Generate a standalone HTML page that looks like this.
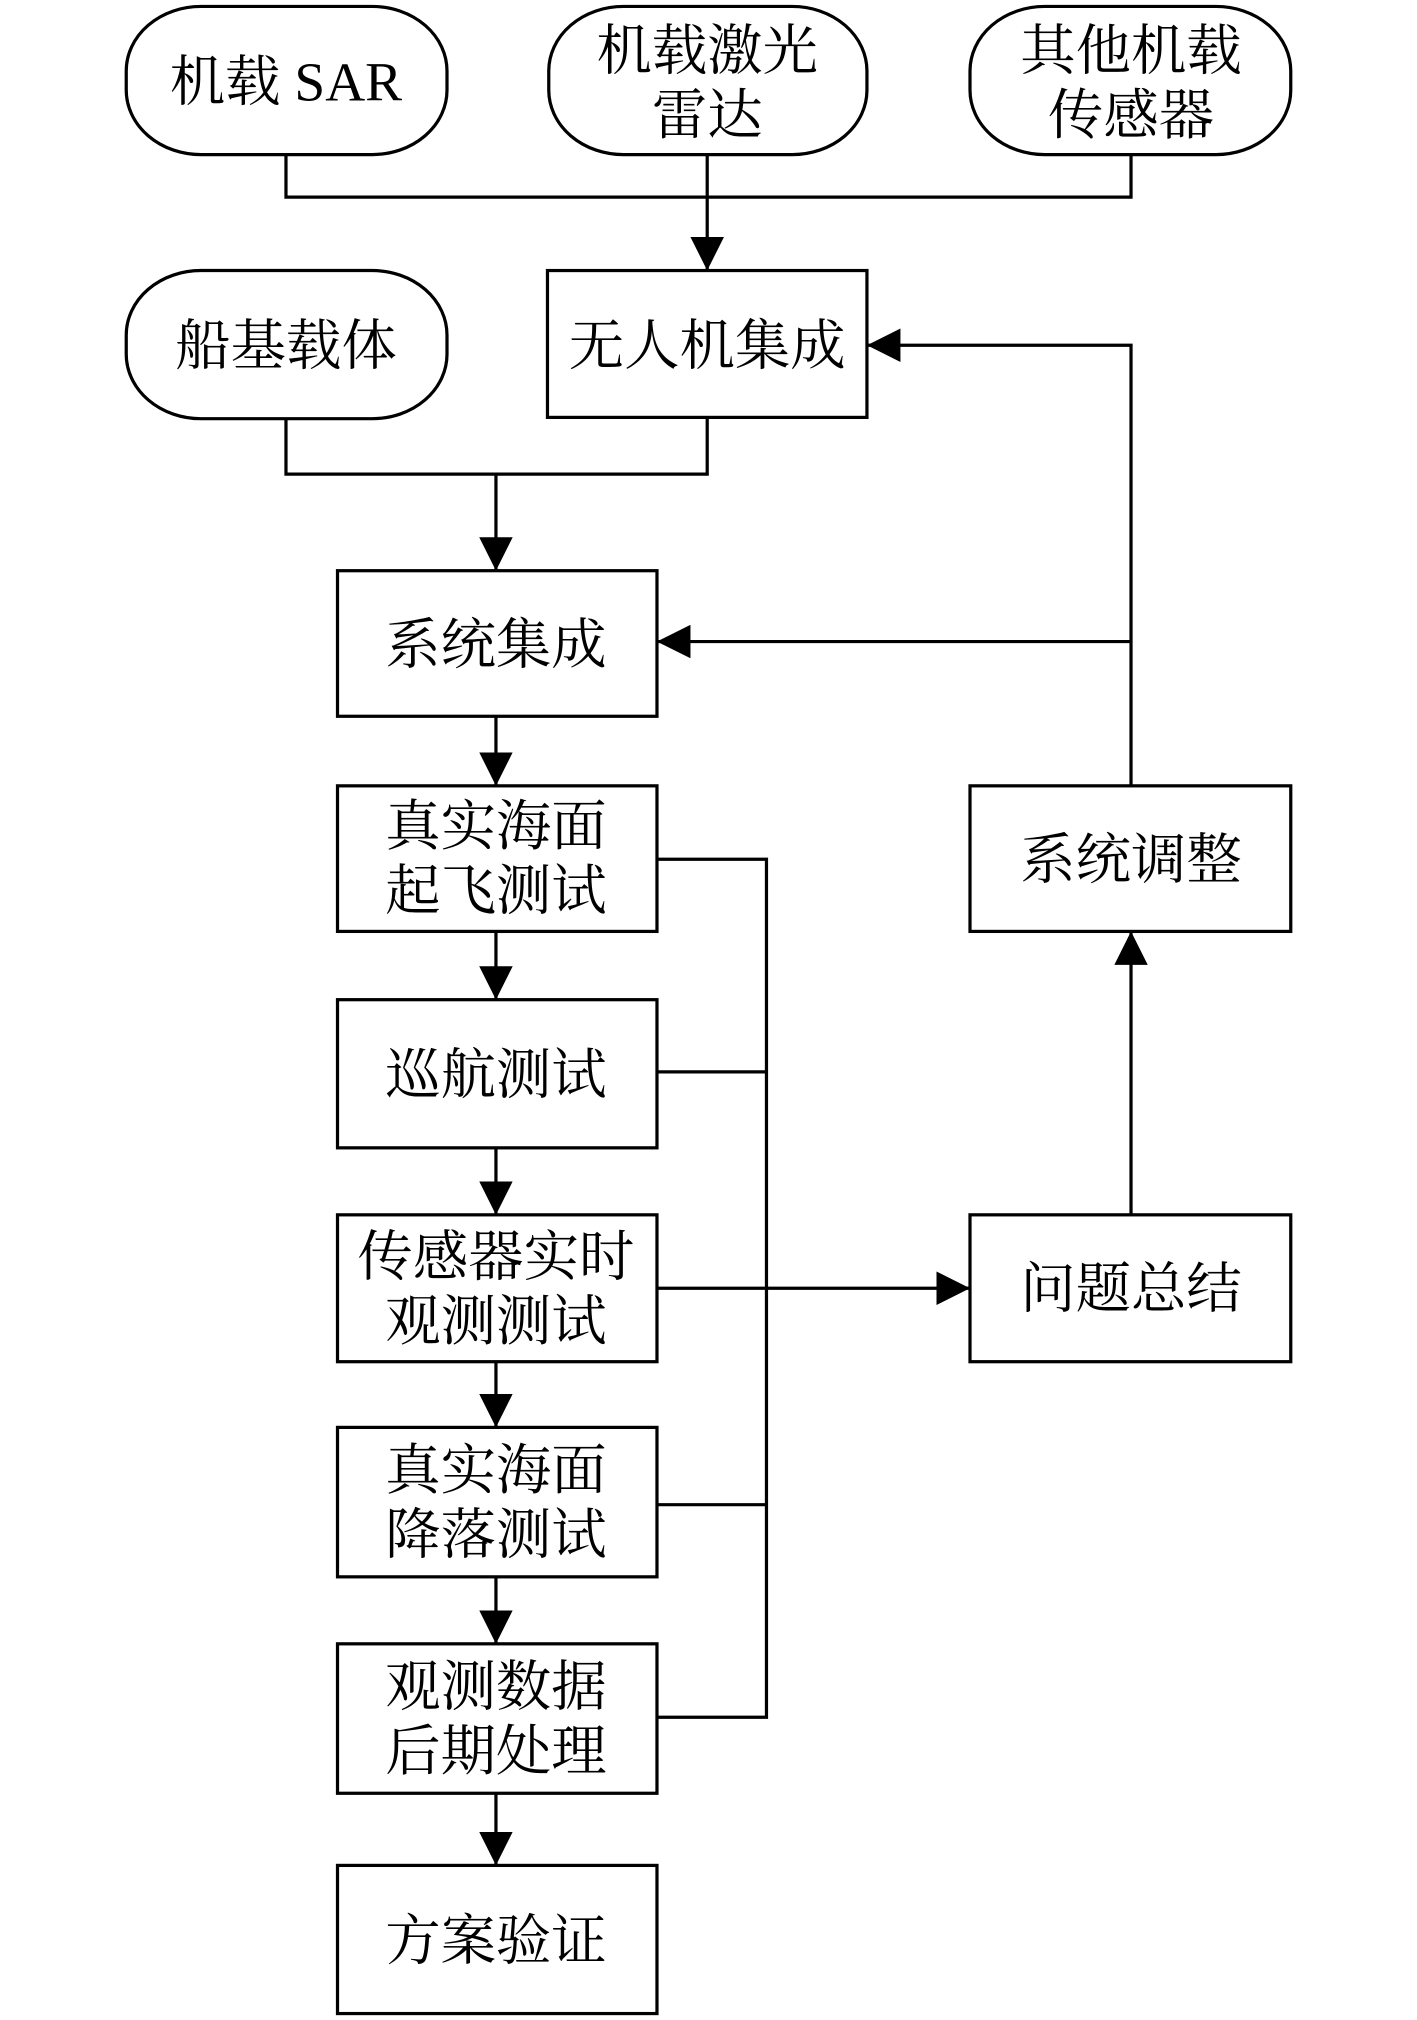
<!DOCTYPE html>
<html><head><meta charset="utf-8"><style>html,body{margin:0;padding:0;background:#fff}svg{display:block}</style></head><body>
<svg width="1417" height="2020" viewBox="0 0 1100 1568" preserveAspectRatio="none" xmlns="http://www.w3.org/2000/svg">
<defs><marker id="a" markerWidth="10" markerHeight="10" refX="9" refY="5" orient="auto" markerUnits="userSpaceOnUse" viewBox="0 0 10 10"><path d="M0,0 L10,5 L0,10z" fill="#000"/></marker>
<marker id="b" markerWidth="26" markerHeight="26" refX="26" refY="13" orient="auto" markerUnits="userSpaceOnUse" viewBox="0 0 26 26"><path d="M0,0 L26,13 L0,26z" fill="#000"/></marker></defs>
<g fill="#fff" stroke="#000" stroke-width="2.5">
<rect x="98" y="5" width="249" height="115" rx="58" ry="50"/>
<rect x="426" y="5" width="247" height="115" rx="58" ry="50"/>
<rect x="753" y="5" width="249" height="115" rx="58" ry="50"/>
<rect x="98" y="210" width="249" height="115" rx="58" ry="50"/>
<rect x="425" y="210" width="248" height="114"/>
<rect x="262" y="443" width="248" height="113"/>
<rect x="262" y="610" width="248" height="113"/>
<rect x="262" y="776" width="248" height="115"/>
<rect x="262" y="943" width="248" height="114"/>
<rect x="262" y="1108" width="248" height="116"/>
<rect x="262" y="1276" width="248" height="116"/>
<rect x="262" y="1448" width="248" height="115"/>
<rect x="753" y="610" width="249" height="113"/>
<rect x="753" y="943" width="249" height="114"/>
</g>
<g fill="none" stroke="#000" stroke-width="2.5">
<path d="M222,120 V153 H878 V120 M549,120 V153"/>
<path d="M549,153 V210" marker-end="url(#b)"/>
<path d="M222,325 V368 H549 V324"/>
<path d="M385,368 V443" marker-end="url(#b)"/>
<path d="M385,556 V610" marker-end="url(#b)"/>
<path d="M385,723 V776" marker-end="url(#b)"/>
<path d="M385,891 V943" marker-end="url(#b)"/>
<path d="M385,1057 V1108" marker-end="url(#b)"/>
<path d="M385,1224 V1276" marker-end="url(#b)"/>
<path d="M385,1392 V1448" marker-end="url(#b)"/>
<path d="M510,667 H595 V1333 H510 M510,832 H595 M510,1168 H595"/>
<path d="M510,1000 H753" marker-end="url(#b)"/>
<path d="M878,943 V723" marker-end="url(#b)"/>
<path d="M878,610 V268 H673" marker-end="url(#b)"/>
<path d="M878,498 H510" marker-end="url(#b)"/>
</g>
<g font-family="'Liberation Serif','Noto Serif CJK SC',serif" font-size="43" text-anchor="middle" fill="#000">
<text x="222" y="78">机载 SAR</text>
<text x="549" y="54">机载激光</text><text x="549" y="104">雷达</text>
<text x="878" y="54">其他机载</text><text x="878" y="104">传感器</text>
<text x="222" y="283">船基载体</text>
<text x="549" y="283">无人机集成</text>
<text x="385" y="515">系统集成</text>
<text x="385" y="656">真实海面</text><text x="385" y="706">起飞测试</text>
<text x="385" y="849">巡航测试</text>
<text x="385" y="990">传感器实时</text><text x="385" y="1040">观测测试</text>
<text x="385" y="1156">真实海面</text><text x="385" y="1206">降落测试</text>
<text x="385" y="1324">观测数据</text><text x="385" y="1374">后期处理</text>
<text x="385" y="1521">方案验证</text>
<text x="878" y="682">系统调整</text>
<text x="878" y="1015">问题总结</text>
</g>
</svg>
</body></html>
